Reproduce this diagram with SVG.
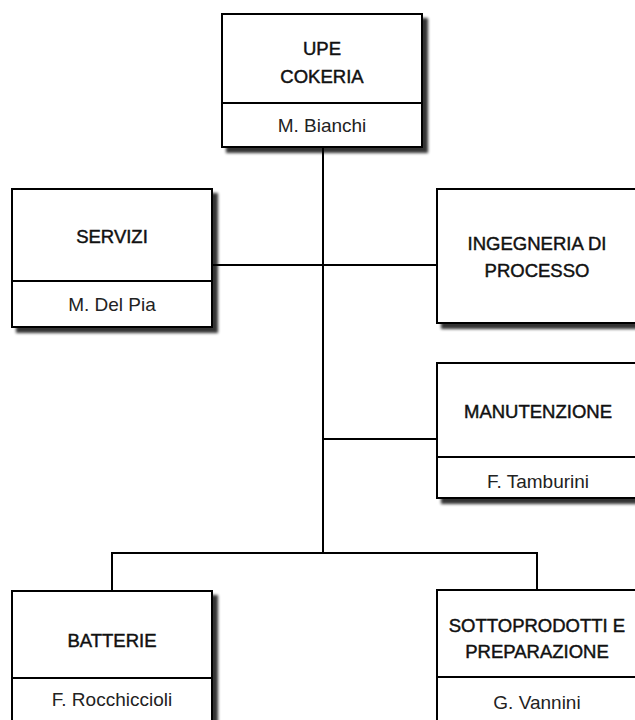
<svg xmlns="http://www.w3.org/2000/svg" width="635" height="720" viewBox="0 0 635 720">
<defs>
<filter id="sh" x="-10%" y="-10%" width="130%" height="130%">
<feOffset in="SourceAlpha" dx="5" dy="5" result="o"/>
<feGaussianBlur in="o" stdDeviation="1.5" result="b"/>
<feComponentTransfer in="b" result="c"><feFuncA type="linear" slope="0.8"/></feComponentTransfer>
<feMerge><feMergeNode in="c"/><feMergeNode in="SourceGraphic"/></feMerge>
</filter>
</defs>
<style>
.box{fill:#fff;stroke:#000;stroke-width:2}
.div{stroke:#000;stroke-width:2}
.ln{stroke:#000;stroke-width:2;fill:none}
.t{font-family:"Liberation Sans",Arial,sans-serif;font-size:18.5px;fill:#111;text-anchor:middle;stroke:#111;stroke-width:0.45}
.n{font-family:"Liberation Sans",Arial,sans-serif;font-size:19px;fill:#222;text-anchor:middle}
</style>
<rect width="635" height="720" fill="#fff"/>
<g id="connectors">
<path class="ln" d="M323 147V553M212 265H437M323 439H437M112 591V553H537V590"/>
</g>
<g id="upe">
<rect class="box" x="222" y="14" width="200" height="133" filter="url(#sh)"/>
<line class="div" x1="222" y1="103" x2="422" y2="103"/>
<text class="t" x="322" y="55">UPE</text>
<text class="t" x="322" y="83">COKERIA</text>
<text class="n" x="322" y="132">M. Bianchi</text>
</g>
<g id="servizi">
<rect class="box" x="12" y="189" width="200" height="138" filter="url(#sh)"/>
<line class="div" x1="12" y1="281" x2="212" y2="281"/>
<text class="t" x="112" y="243">SERVIZI</text>
<text class="n" x="112" y="311">M. Del Pia</text>
</g>
<g id="ingegneria">
<rect class="box" x="437" y="189" width="200" height="134" filter="url(#sh)"/>
<text class="t" x="537" y="250">INGEGNERIA DI</text>
<text class="t" x="537" y="277">PROCESSO</text>
</g>
<g id="manutenzione">
<rect class="box" x="437" y="363" width="200" height="135" filter="url(#sh)"/>
<line class="div" x1="437" y1="457" x2="637" y2="457"/>
<text class="t" x="538" y="418">MANUTENZIONE</text>
<text class="n" x="538" y="488">F. Tamburini</text>
</g>
<g id="batterie">
<rect class="box" x="12" y="591" width="200" height="135" filter="url(#sh)"/>
<line class="div" x1="12" y1="678" x2="212" y2="678"/>
<text class="t" x="112" y="647">BATTERIE</text>
<text class="n" x="112" y="706">F. Rocchiccioli</text>
</g>
<g id="sottoprodotti">
<rect class="box" x="437" y="590" width="200" height="135" filter="url(#sh)"/>
<line class="div" x1="437" y1="677" x2="637" y2="677"/>
<text class="t" x="537" y="632">SOTTOPRODOTTI E</text>
<text class="t" x="537" y="658">PREPARAZIONE</text>
<text class="n" x="537" y="709">G. Vannini</text>
</g>
</svg>
